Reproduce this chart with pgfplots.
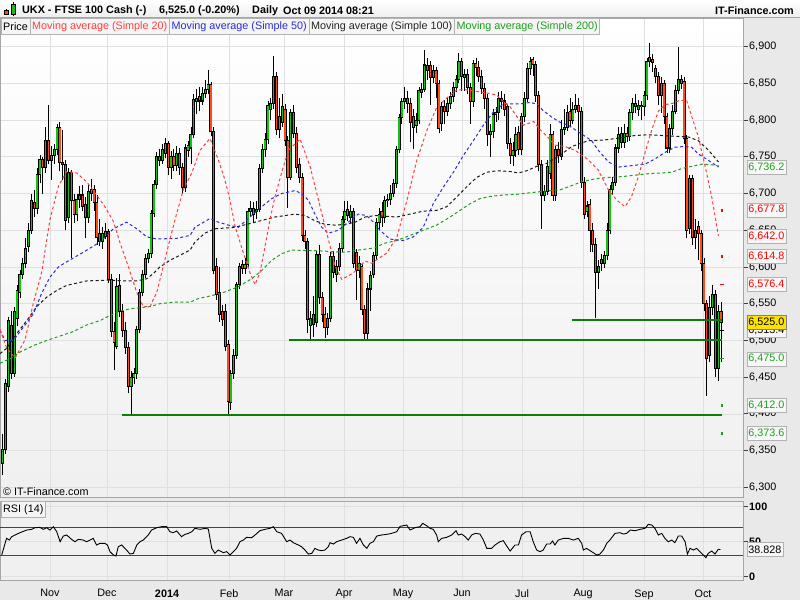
\documentclass[border=0pt]{standalone}
\usepackage{pgfplots}
\pgfplotsset{compat=1.18}
\usepackage{pgfplotstable}
\usepackage{fontspec}
\setmainfont{Liberation Sans}

\definecolor{upc}{HTML}{12C312}
\definecolor{dnc}{HTML}{FF4A17}
\definecolor{sup}{HTML}{0B7F0B}
\definecolor{ma20}{HTML}{FF4040}
\definecolor{ma50}{HTML}{2B2BD9}
\definecolor{ma100}{HTML}{1A1A1A}
\definecolor{ma200}{HTML}{1E9E1E}
\definecolor{rsiline}{HTML}{2E2EE8}
\definecolor{bgpanel}{HTML}{E9E9E9}
\newcommand\fs{\fontsize{10.8}{12}\selectfont}

% daily candles, d = trading day (1 = Oct 09 2013)
\pgfplotstableread{
d o h l c
1 6332 6373 6317 6351
2 6351 6447 6345 6441
3 6437 6532 6430 6527
4 6520 6540 6448 6455
5 6455 6546 6450 6540
6 6530 6575 6520 6568
7 6565 6596 6558 6590
8 6590 6612 6583 6605
9 6605 6640 6598 6625
10 6628 6660 6620 6650
11 6650 6700 6645 6690
12 6688 6705 6668 6680
13 6680 6735 6672 6726
14 6726 6752 6715 6746
15 6746 6750 6700 6735
16 6735 6790 6728 6772
17 6772 6820 6740 6745
18 6745 6765 6718 6752
19 6752 6768 6740 6760
20 6760 6795 6752 6790
21 6790 6798 6730 6742
22 6742 6786 6718 6740
23 6740 6745 6650 6663
24 6668 6735 6660 6728
25 6728 6732 6612 6690
26 6690 6700 6660 6672
27 6672 6700 6662 6692
28 6692 6710 6680 6698
29 6698 6712 6676 6682
30 6685 6695 6640 6667
31 6667 6712 6660 6703
32 6700 6720 6690 6705
33 6705 6712 6676 6688
34 6688 6698 6630 6640
35 6645 6665 6628 6635
36 6635 6655 6625 6645
37 6642 6660 6638 6648
38 6648 6652 6578 6583
39 6583 6590 6505 6512
40 6512 6525 6460 6497
41 6492 6585 6488 6573
42 6575 6590 6532 6540
43 6540 6550 6505 6513
44 6513 6525 6482 6490
45 6490 6498 6428 6437
46 6437 6458 6398 6450
47 6450 6462 6440 6455
48 6455 6520 6448 6515
49 6515 6570 6510 6565
50 6565 6596 6560 6590
51 6590 6618 6585 6612
52 6612 6625 6605 6618
53 6618 6678 6612 6673
54 6673 6718 6668 6712
55 6712 6756 6706 6750
56 6750 6760 6738 6745
57 6745 6768 6740 6760
58 6755 6775 6748 6768
59 6768 6772 6725 6735
60 6735 6758 6720 6750
61 6750 6760 6730 6738
62 6738 6765 6730 6755
63 6755 6762 6725 6735
64 6735 6742 6700 6708
65 6708 6768 6702 6762
66 6758 6772 6750 6765
67 6762 6790 6740 6780
68 6780 6835 6775 6828
69 6825 6842 6808 6830
70 6832 6845 6812 6826
71 6826 6845 6820 6836
72 6836 6855 6830 6842
73 6842 6868 6835 6848
74 6848 6852 6778 6784
75 6784 6790 6590 6595
76 6600 6612 6555 6562
77 6565 6600 6525 6535
78 6540 6548 6520 6528
79 6540 6550 6485 6492
80 6495 6500 6397 6417
81 6415 6460 6405 6455
82 6455 6488 6448 6480
83 6480 6580 6475 6576
84 6576 6606 6570 6600
85 6603 6610 6590 6598
86 6598 6612 6590 6603
87 6603 6680 6600 6676
88 6676 6690 6670 6680
89 6680 6688 6660 6672
90 6675 6690 6665 6678
91 6678 6740 6675 6734
92 6734 6768 6728 6760
93 6760 6782 6750 6774
94 6774 6826 6768 6820
95 6815 6830 6800 6822
96 6822 6887 6815 6860
97 6860 6865 6780 6787
98 6805 6830 6775 6787
99 6797 6835 6790 6818
100 6815 6822 6765 6772
101 6772 6778 6680 6722
102 6722 6815 6718 6810
103 6810 6820 6775 6782
104 6782 6790 6728 6735
105 6740 6748 6715 6722
106 6722 6728 6636 6643
107 6643 6650 6625 6635
108 6635 6640 6510 6528
109 6520 6540 6500 6530
110 6535 6560 6505 6522
111 6525 6622 6518 6617
112 6617 6630 6550 6558
113 6558 6566 6525 6535
114 6535 6545 6503 6518
115 6518 6538 6508 6530
116 6530 6620 6525 6614
117 6614 6622 6585 6592
118 6590 6610 6580 6600
119 6600 6632 6595 6625
120 6625 6670 6620 6665
121 6665 6690 6660 6675
122 6678 6690 6662 6670
123 6668 6685 6660 6675
124 6675 6680 6598 6605
125 6620 6625 6555 6595
126 6595 6615 6585 6605
127 6600 6606 6535 6542
128 6542 6548 6500 6510
129 6510 6578 6500 6570
130 6570 6595 6540 6588
131 6590 6620 6585 6615
132 6615 6666 6610 6660
133 6660 6680 6652 6672
134 6675 6688 6655 6668
135 6668 6696 6660 6690
136 6690 6700 6682 6692
137 6692 6712 6685 6700
138 6700 6720 6695 6713
139 6713 6765 6708 6760
140 6760 6808 6755 6803
141 6803 6830 6795 6825
142 6825 6845 6815 6830
143 6830 6840 6810 6822
144 6822 6830 6770 6797
145 6805 6815 6760 6790
146 6792 6810 6782 6800
147 6800 6845 6795 6840
148 6838 6850 6830 6842
149 6842 6896 6838 6875
150 6868 6885 6855 6874
151 6874 6880 6820 6858
152 6858 6875 6850 6868
153 6868 6872 6830 6850
154 6850 6855 6782 6788
155 6795 6825 6785 6818
156 6818 6828 6795 6812
157 6812 6830 6805 6822
158 6822 6838 6815 6832
159 6832 6852 6825 6845
160 6845 6862 6838 6855
161 6855 6892 6850 6880
162 6880 6885 6840 6860
163 6858 6870 6840 6862
164 6862 6870 6835 6845
165 6845 6850 6795 6825
166 6825 6882 6818 6877
167 6877 6884 6860 6872
168 6872 6880 6852 6860
169 6860 6868 6835 6843
170 6843 6850 6815 6830
171 6830 6835 6765 6780
172 6780 6795 6750 6785
173 6785 6815 6775 6808
174 6808 6818 6798 6810
175 6810 6838 6800 6830
176 6830 6840 6815 6826
177 6826 6835 6805 6815
178 6818 6822 6760 6768
179 6768 6775 6740 6752
180 6752 6770 6738 6758
181 6758 6790 6750 6780
182 6783 6792 6752 6760
183 6760 6810 6752 6805
184 6805 6838 6798 6830
185 6830 6878 6825 6870
186 6870 6886 6862 6880
187 6882 6886 6860 6876
188 6876 6880 6825 6833
189 6833 6840 6730 6740
190 6740 6745 6652 6697
191 6697 6712 6690 6703
192 6703 6745 6698 6737
193 6727 6795 6720 6780
194 6780 6785 6690 6697
195 6697 6765 6690 6760
196 6760 6770 6742 6752
197 6750 6800 6745 6787
198 6787 6815 6780 6790
199 6790 6820 6785 6810
200 6812 6830 6790 6800
201 6800 6825 6795 6815
202 6815 6835 6810 6820
203 6820 6830 6760 6812
204 6812 6818 6708 6715
205 6715 6722 6665 6672
206 6675 6690 6668 6683
207 6685 6692 6620 6650
208 6650 6660 6620 6630
209 6630 6640 6530 6593
210 6593 6610 6570 6600
211 6610 6618 6595 6605
212 6605 6622 6598 6615
213 6615 6660 6610 6650
214 6650 6712 6645 6705
215 6705 6722 6698 6715
216 6715 6768 6710 6762
217 6762 6790 6755 6780
218 6782 6790 6762 6770
219 6770 6795 6762 6782
220 6782 6790 6770 6778
221 6778 6815 6772 6810
222 6810 6830 6800 6822
223 6822 6835 6810 6818
224 6815 6828 6805 6820
225 6820 6826 6800 6818
226 6818 6840 6805 6833
227 6833 6885 6828 6880
228 6880 6905 6872 6885
229 6883 6890 6865 6878
230 6870 6875 6850 6860
231 6860 6865 6820 6834
232 6834 6858 6810 6850
233 6850 6855 6795 6805
234 6805 6810 6755 6762
235 6762 6795 6755 6788
236 6788 6820 6780 6812
237 6812 6848 6808 6840
238 6840 6900 6835 6855
239 6855 6862 6842 6850
240 6852 6858 6768 6775
241 6775 6780 6640 6650
242 6652 6725 6645 6720
243 6720 6725 6630 6640
244 6640 6665 6625 6650
245 6655 6662 6610 6645
246 6645 6650 6595 6605
247 6605 6612 6540 6550
248 6550 6555 6425 6475
249 6480 6560 6470 6545
250 6545 6575 6535 6563
251 6563 6568 6450 6462
252 6462 6548 6445 6540
253 6540 6552 6470 6525
}\ohlc

\pgfplotsset{
  chart/.style={
    scale only axis, width=742.7pt,
    xmin=0, xmax=260.6,
    axis background/.style={top color=white, bottom color=black!6},
    axis line style={draw=black!35},
    grid=major, major grid style={draw=black!12, line width=0.7pt},
    xtick={17.5,37.5,58.6,80.4,99.6,120.7,141.4,162.1,183.2,204.6,226,246.7},
    xtick style={draw=none},
    yticklabel pos=right,
    tick align=outside, major tick length=5pt,
    ytick style={draw=black!75, line width=0.8pt},
    ticklabel style={font=\fs},
    yticklabel style={xshift=-2pt},
    /pgf/number format/assume math mode=true,
    clip=false,
  },
  wick/.style={forget plot, draw=none, mark=none,
    error bars/.cd, y dir=plus, y explicit, error mark=none,
    error bar style={draw=black, line width=0.8pt}},
  body/.style={forget plot, draw=none, mark=none,
    error bars/.cd, y dir=plus, y explicit, error mark=none,
    error bar style={draw=#1, line width=3pt}},
  fillc/.style={forget plot, draw=none, mark=none,
    error bars/.cd, y dir=plus, y explicit, error mark=none,
    error bar style={draw=#1, line width=1.3pt}},
  ma/.style={#1, line width=1pt, dash pattern=on 3pt off 2.5pt},
}
\tikzset{
  tag/.style={anchor=west, xshift=4pt, draw=black!30, fill=black!3,
    inner xsep=1.5pt, inner ysep=0pt, minimum height=14pt, font=\fs},
}

\begin{document}
\begin{tikzpicture}[x=1pt, y=1pt]
\fill[bgpanel] (0,0) rectangle (800,600);
\shade[top color=white, bottom color=black!7] (0,582) rectangle (800,600);

% price panel
\begin{axis}[chart, at={(0pt,103pt)}, anchor=south west, height=479pt,
  ymin=6286.8, ymax=6939,
  xticklabels={},
  ytick={6300,6350,...,6900},
  scaled y ticks=false,
  yticklabel style={/pgf/number format/.cd, fixed, 1000 sep={,}},
]
\addplot[wick] table[x=d, y=l, y error expr=\thisrow{h}-\thisrow{l}] {\ohlc};
\addplot[body=black] table[x=d, y expr={min(\thisrow{o},\thisrow{c})-0.7},
  y error expr={abs(\thisrow{c}-\thisrow{o})+1.4}] {\ohlc};
\addplot[fillc=upc] table[x=d, y expr=\thisrow{o}+0.7,
  y error expr={max(\thisrow{c}-\thisrow{o}-1.4,0)}] {\ohlc};
\addplot[fillc=dnc] table[x=d, y expr=\thisrow{c}+0.7,
  y error expr={max(\thisrow{o}-\thisrow{c}-1.4,0)}] {\ohlc};

% simple 200
\addplot[ma=ma200] coordinates {
(0,6469) (3.5,6475) (7,6484) (11.7,6493) (16.4,6500) (21.1,6506) (25.7,6512)
(30.4,6521) (35.1,6527) (38.6,6534) (42.1,6540) (45.6,6543) (52.6,6546)
(56.1,6550) (60.8,6552) (66.7,6552) (69.6,6557) (74.3,6561) (78.9,6566)
(83.6,6573) (88.3,6584) (91.8,6595) (95.3,6609) (98.8,6618) (102.3,6623)
(111.7,6622) (121.1,6620) (125.7,6623) (131.6,6626) (134.5,6632) (139.2,6636)
(143.9,6643) (148.5,6650) (153.2,6657) (157.9,6668) (161.4,6677) (164.9,6686)
(168.4,6693) (171.9,6696) (176.6,6698) (181.3,6699) (186,6701) (190.6,6703)
(196.5,6705) (199.4,6709) (204.1,6716) (208.8,6720) (213.5,6722) (218.1,6723)
(222.8,6725) (227.5,6727) (232.2,6728) (235.8,6729) (239.2,6734) (242.7,6737)
(246.4,6740) (249.9,6739) (252.8,6737)};
% simple 100
\addplot[ma=ma100] coordinates {
(0,6482) (2.3,6489) (5.8,6509) (9.4,6527) (12.9,6546) (16.4,6559) (19.9,6568)
(23.4,6575) (30.4,6581) (37.4,6582) (44.4,6581) (48,6581) (51.5,6584)
(53.8,6591) (56.1,6600) (59.6,6609) (63.2,6616) (66.7,6623) (68.4,6634)
(71.9,6646) (75.4,6652) (82.5,6654) (89.5,6661) (96.5,6668) (103.5,6672)
(107,6670) (110.5,6663) (114,6658) (117.6,6657) (121.1,6658) (124.6,6661)
(128.1,6668) (131.6,6670) (139.2,6668) (143.9,6672) (148.5,6676) (153.2,6677)
(156.7,6682) (160.2,6695) (163.7,6709) (167.3,6722) (170.8,6729) (174.3,6731)
(179,6730) (181.9,6728) (184.8,6731) (188.3,6737) (191.8,6741) (196.5,6752)
(200.6,6764) (206.4,6772) (212.3,6773) (218.1,6776) (222.8,6779) (227.5,6780)
(232.2,6779) (236.8,6778) (241.5,6777) (245,6772) (248.6,6759) (252.1,6743)};
% simple 50
\addplot[ma=ma50] coordinates {
(0,6514) (1.8,6500) (4.7,6500) (8.2,6518) (11.7,6536) (14.6,6564) (17.5,6586)
(20.5,6600) (23.4,6607) (29.2,6620) (35.1,6634) (39.8,6652) (44.4,6661)
(48,6652) (51.5,6641) (55,6638) (62,6639) (66.7,6643) (68.4,6654) (73.7,6666)
(76.6,6661) (80.1,6657) (83.6,6654) (88.3,6670) (91.8,6682) (95.3,6693)
(98.8,6700) (103.5,6704) (105.8,6700) (108.2,6691) (110.5,6672) (112.9,6654)
(115.2,6646) (118.7,6650) (122.2,6661) (125.7,6672) (128.6,6670) (131.6,6659)
(133.3,6650) (136.8,6638) (141.5,6636) (145,6641) (148.5,6654) (152,6686)
(155.6,6709) (159.1,6729) (162.6,6752) (166.1,6772) (169.6,6793) (173.1,6811)
(176.6,6822) (182.5,6822) (186,6824) (188.3,6822) (190.6,6813) (193.6,6804)
(196.5,6797) (199.4,6793) (204.1,6781) (207.6,6772) (209.9,6759) (213.5,6743)
(217,6736) (221.6,6738) (226.3,6740) (229.8,6747) (233.3,6756) (236.8,6763)
(239.8,6764) (242.7,6763) (245,6754) (248.6,6745) (252.1,6736)};
% simple 20
\addplot[ma=ma20] coordinates {
(0,6515) (2.3,6490) (5.3,6476) (8.8,6501) (11.7,6551) (14.6,6592) (17.5,6664)
(20.5,6710) (23.4,6730) (26.9,6728) (30.4,6716) (33.9,6698) (36.8,6682)
(39.8,6662) (42.1,6633) (45,6601) (48,6565) (50.3,6546) (52.6,6546) (55,6565)
(57.3,6601) (59.6,6637) (62,6673) (64.3,6705) (67.3,6728) (70.2,6759)
(73.7,6775) (76.6,6746) (78.9,6719) (80.7,6691) (82.5,6655) (85.4,6619)
(87.7,6592) (89.5,6576) (91.2,6592) (93,6628) (94.7,6664) (96.5,6696)
(98.8,6728) (101.2,6759) (105.3,6774) (108.8,6737) (112.9,6673) (117.6,6601)
(119.9,6583) (124,6592) (128.1,6608) (130.5,6605) (132.2,6610) (135.7,6619)
(139.3,6641) (142.8,6691) (146.3,6746) (149.9,6787) (153.3,6818) (156.8,6830)
(160.3,6841) (163.8,6841) (167.3,6839) (170.8,6837) (174.3,6834) (176.6,6825)
(179,6818) (181.3,6805) (183.6,6793) (187.2,6798) (189.5,6787) (191.9,6778)
(194.7,6766) (198.2,6764) (201.7,6759) (206.4,6746) (209.9,6732) (213.5,6705)
(216.4,6691) (219.3,6682) (221.6,6696) (224,6723) (226.3,6755) (228.7,6787)
(231,6812) (233.3,6821) (236.2,6823) (238.6,6827) (240.9,6827) (242.7,6805)
(245,6778) (247.4,6737) (249.7,6696) (252.1,6642)};

% support lines
\addplot[sup, line width=2pt] coordinates {(42.8,6398) (253.3,6398)};
\addplot[sup, line width=2pt] coordinates {(101.4,6500) (253.3,6500)};
\addplot[sup, line width=2pt] coordinates {(200.6,6528) (253.3,6528)};

% projected values
\addplot[only marks, mark=square*, mark size=0.9pt, color=red] coordinates {(253.2,6677.8) (253.2,6614.8)};
\addplot[only marks, mark=-, mark size=2pt, line width=1pt, color=red] coordinates {(253.2,6576.4)};
\addplot[only marks, mark=-, mark size=2pt, line width=1pt, color=black] coordinates {(253.2,6513.4)};
\addplot[only marks, mark=-, mark size=2pt, line width=1pt, color=ma200] coordinates {(253.2,6475.0)};
\addplot[only marks, mark=square*, mark size=0.9pt, color=ma200] coordinates {(253.2,6412.0) (253.2,6373.6)};

\node[tag, text=ma200] at (axis cs:260.6,6736.2) {6,736.2};
\node[tag, text=red] at (axis cs:260.6,6677.8) {6,677.8};
\node[tag, text=red] at (axis cs:260.6,6642.0) {6,642.0};
\node[tag, text=red] at (axis cs:260.6,6614.8) {6,614.8};
\node[tag, text=red] at (axis cs:260.6,6576.4) {6,576.4};
\node[tag, text=black] at (axis cs:260.6,6513.4) {6,513.4};
\node[tag, text=black, fill=yellow!85!orange, draw=black!50] at (axis cs:260.6,6525.0) {6,525.0};
\node[tag, text=ma200] at (axis cs:260.6,6475.0) {6,475.0};
\node[tag, text=ma200] at (axis cs:260.6,6412.0) {6,412.0};
\node[tag, text=ma200] at (axis cs:260.6,6373.6) {6,373.6};
\end{axis}

% RSI panel
\begin{axis}[chart, at={(0pt,20pt)}, anchor=south west, height=79.3pt,
  axis background/.style={fill=black!6},
  ymin=-4.7, ymax=108.6,
  ytick={0,50,100},
  yticklabel style={font=\fs\bfseries},
  xticklabels={Nov,Dec,\textbf{2014},Feb,Mar,Apr,May,Jun,Jul,Aug,Sep,Oct},
  xticklabel style={yshift=-1pt},
]
\addplot[color=rsiline, line width=1.2pt] coordinates {(0,70) (260.6,70)};
\addplot[color=rsiline, line width=1.2pt] coordinates {(0,30) (260.6,30)};
\addplot[black, line width=0.9pt] coordinates {
(0.6,31.0) (2.3,54.8) (3.3,52.4) (4.1,57.2) (5.3,59.6) (7.0,62.9) (9.4,66.7)
(11.1,67.7) (12.3,70.0) (14.0,70.5) (15.2,67.7) (16.4,70.0) (17.5,66.7)
(18.7,71.5) (19.9,64.3) (21.1,50.0) (22.2,58.1) (23.4,59.6) (25.1,53.4)
(26.3,50.0) (27.5,53.4) (29.2,52.4) (30.4,50.0) (31.6,52.4) (32.7,54.8)
(33.9,45.3) (35.1,47.7) (36.8,47.7) (37.7,45.3) (38.6,35.8) (39.8,31.0)
(40.7,29.6) (41.5,42.9) (42.7,45.3) (44.4,38.1) (45.6,32.4) (46.8,33.4)
(48.0,45.3) (49.1,50.0) (50.3,52.4) (52.0,59.6) (53.2,66.7) (55.0,70.0)
(56.7,71.5) (58.5,71.5) (59.6,64.3) (60.8,62.9) (62.0,65.3) (63.7,57.2)
(64.9,60.5) (66.1,61.9) (67.3,64.3) (68.4,69.1) (70.2,67.7) (71.9,69.1)
(73.1,68.1) (74.3,40.5) (75.4,33.4) (76.6,38.1) (78.4,34.3) (79.5,35.8)
(80.7,31.0) (81.9,35.8) (83.0,40.5) (84.2,50.0) (85.4,52.4) (86.5,56.2)
(88.3,55.8) (89.5,59.6) (91.2,65.8) (93.0,67.7) (94.7,69.1) (95.9,71.5)
(97.1,64.3) (98.8,61.9) (100.6,50.0) (101.8,52.4) (102.9,48.6) (104.7,45.3)
(105.8,42.9) (107.0,38.1) (108.2,32.4) (109.4,33.4) (110.5,40.5) (111.7,38.1)
(112.9,37.2) (114.0,38.1) (115.2,42.9) (115.8,48.6) (117.0,46.7) (118.1,50.0)
(119.9,52.4) (121.6,54.8) (122.8,57.2) (124.0,56.2) (125.1,47.7) (126.3,54.8)
(127.5,45.3) (128.7,40.5) (129.8,47.7) (131.0,50.0) (132.2,58.1) (133.9,59.6)
(135.7,60.5) (137.4,61.9) (139.2,64.3) (140.4,72.0) (142.7,73.8) (143.9,66.7)
(145.6,70.0) (147.4,71.5) (148.3,76.2) (149.7,72.9) (150.9,69.1) (152.0,67.7)
(153.2,59.6) (153.8,50.0) (155.0,54.8) (156.7,56.2) (158.5,59.6) (160.0,65.7)
(160.8,59.6) (162.0,61.0) (163.2,57.2) (164.3,52.4) (165.5,59.6) (166.7,61.9)
(168.4,61.0) (169.6,52.4) (170.8,40.5) (172.5,40.5) (173.7,45.3) (175.4,50.0)
(176.6,51.5) (177.8,43.8) (179.0,36.7) (180.7,45.3) (181.9,45.3) (183.0,59.6)
(184.6,64.3) (186.0,64.3) (187.1,50.0) (188.3,38.1) (189.5,35.8) (190.6,38.1)
(191.8,46.7) (193.0,46.7) (193.9,51.0) (194.7,45.3) (195.9,52.4) (197.7,54.8)
(199.4,54.8) (201.2,52.4) (202.9,54.8) (204.1,47.7) (204.7,38.1) (205.8,40.5)
(207.6,35.8) (209.4,31.0) (210.5,32.4) (211.7,38.1) (212.9,47.7) (214.0,52.4)
(215.8,61.9) (217.5,62.9) (218.7,61.0) (219.9,61.9) (221.1,66.7) (222.8,65.7)
(224.6,67.7) (226.3,69.1) (227.5,74.8) (228.7,73.8) (229.8,69.1) (231.0,59.6)
(232.2,61.9) (233.3,54.8) (234.5,50.0) (235.7,52.4) (236.8,48.6) (238.0,58.1)
(239.2,58.1) (240.4,50.0) (241.2,32.4) (242.1,40.5) (243.3,38.1) (244.4,40.5)
(245.6,35.8) (246.8,31.0) (247.7,27.2) (248.5,33.4) (249.7,36.7) (250.9,32.4)
(252.0,39.1) (252.8,38.8)};
\node[tag, text=black] at (axis cs:260.6,38.828) {38.828};
\end{axis}

% header
\fill[black!35] (0,582) rectangle (800,582.6);
\draw[black] (6,585) -- (6,591); \fill[dnc, draw=black, line width=0.5pt] (4.5,586) rectangle (8,590);
\draw[black] (13,584) -- (13,597.5); \fill[upc, draw=black, line width=0.5pt] (11.5,585.5) rectangle (15,596);
\node[anchor=west, font=\fs\bfseries, inner sep=0pt] at (22,589.5) {UKX - FTSE 100 Cash (-)};
\node[anchor=west, font=\fs\bfseries, inner sep=0pt] at (159,589.5) {6,525.0 (-0.20\%)};
\node[anchor=west, font=\fs\bfseries, inner sep=0pt] at (252,589.5) {Daily};
\node[anchor=west, font=\fs\bfseries, inner sep=0pt] at (283,589.5) {Oct 09 2014 08:21};
\node[anchor=east, font=\fs\bfseries, inner sep=0pt] at (794,589.5) {IT-Finance.com};

% series tabs
\begin{scope}[every node/.style={draw=black!30, fill=black!4, font=\fs,
  inner xsep=2pt, inner ysep=0pt, minimum height=15.5pt, anchor=north west}]
\node (t1) at (1,581.5) {Price};
\node[text=ma20] (t2) at (t1.north east) {Moving average (Simple 20)};
\node[text=ma50] (t3) at (t2.north east) {Moving average (Simple 50)};
\node[text=black!85] (t4) at (t3.north east) {Moving average (Simple 100)};
\node[text=ma200] (t5) at (t4.north east) {Moving average (Simple 200)};
\node (r1) at (1,98.6) {RSI (14)};
\end{scope}
\node[anchor=west, font=\fs, inner sep=0pt] at (3,108.5) {© IT-Finance.com};

\pgfresetboundingbox
\path (0,0) rectangle (800,600);
\end{tikzpicture}
\end{document}
